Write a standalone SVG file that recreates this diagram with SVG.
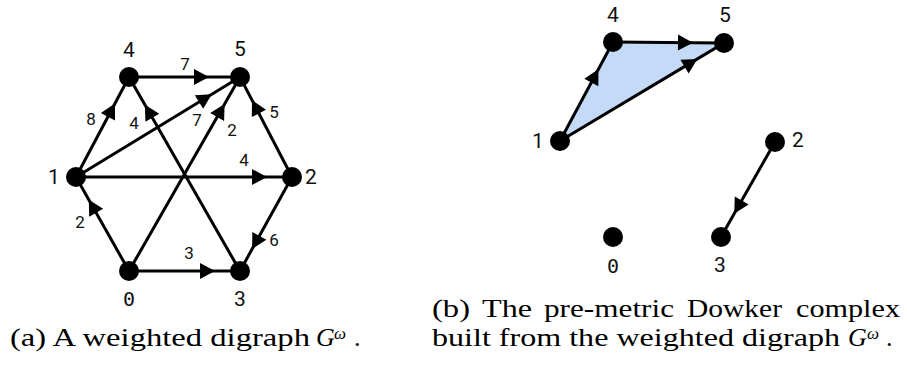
<svg xmlns="http://www.w3.org/2000/svg" width="907" height="367" viewBox="0 0 907 367">
<defs>
<marker id="arr" viewBox="-17 -9 18 18" markerWidth="18" markerHeight="18" refX="0" refY="0" orient="auto" markerUnits="userSpaceOnUse">
<path d="M0,0 L-15,-8 L-15,8 z" fill="#000"/>
</marker>
<style>
.e{fill:none;stroke:#000;stroke-width:3;marker-mid:url(#arr)}
.n{fill:#000}
.nl{font-family:Roboto,"DejaVu Sans",sans-serif;font-size:21px;text-anchor:middle;dominant-baseline:central;fill:#111}
.z{font-family:"DejaVu Sans Mono",monospace;font-size:20px}
.el{font-family:Roboto,"DejaVu Sans",sans-serif;font-size:17px;text-anchor:middle;dominant-baseline:central;fill:#111}
.cap{font-family:"Liberation Serif",serif;font-size:26px;fill:#000}
.it{font-style:italic}
.sup{font-family:"Liberation Serif",serif;font-size:17px;font-style:italic}
</style>
</defs>
<rect width="907" height="367" fill="#fff"/>

<g id="connectors">
<polyline class="e" points="129,77 209,77 240,77"/>
<polyline class="e" points="76,177 114.96,103.5 129,77"/>
<polyline class="e" points="240,271 144.9,104.8 129,77"/>
<polyline class="e" points="76,177 211.8,94.2 240,77"/>
<polyline class="e" points="129,271 224.6,103.9 240,77"/>
<polyline class="e" points="292,177 252,100.1 240,77"/>
<polyline class="e" points="76,177 267,177 292,177"/>
<polyline class="e" points="129,271 88.8,199.7 76,177"/>
<polyline class="e" points="292,177 252.1,249.1 240,271"/>
<polyline class="e" points="129,271 215,271 240,271"/>
<g id="b-connectors">
<polygon points="560,141 613,42 724,43" fill="#c4daf7" stroke="none"/>
<polyline class="e" points="560,141 598.4,69.3 613,42"/>
<polyline class="e" points="613,42 693,42.7 724,43"/>
<polyline class="e" points="560,141 697.4,58.9 724,43"/>
<polyline class="e" points="775,142 734.3,213.5 721,237"/>
</g>
</g>

<g id="edge-labels">
<text class="el" x="185" y="64">7</text>
<text class="el" x="91" y="119">8</text>
<text class="el" x="134" y="123">4</text>
<text class="el" x="197" y="120">7</text>
<text class="el" x="232" y="130">2</text>
<text class="el" x="274" y="112">5</text>
<text class="el" x="244" y="160">4</text>
<text class="el" x="80" y="222">2</text>
<text class="el" x="274" y="240">6</text>
<text class="el" x="189" y="253">3</text>
</g>

<g id="a-node-0"><circle class="n" cx="129" cy="271" r="10"/><text class="nl z" x="129" y="299">0</text></g>
<g id="a-node-1"><circle class="n" cx="76" cy="177" r="10"/><text class="nl" x="54" y="177">1</text></g>
<g id="a-node-2"><circle class="n" cx="292" cy="177" r="10"/><text class="nl" x="311" y="177">2</text></g>
<g id="a-node-3"><circle class="n" cx="240" cy="271" r="10"/><text class="nl" x="240" y="299">3</text></g>
<g id="a-node-4"><circle class="n" cx="129" cy="77" r="10"/><text class="nl" x="129" y="50">4</text></g>
<g id="a-node-5"><circle class="n" cx="240" cy="77" r="10"/><text class="nl" x="240" y="49">5</text></g>

<g id="b-node-0"><circle class="n" cx="613" cy="237" r="10"/><text class="nl z" x="613" y="266">0</text></g>
<g id="b-node-1"><circle class="n" cx="560" cy="141" r="10"/><text class="nl" x="538" y="141">1</text></g>
<g id="b-node-2"><circle class="n" cx="775" cy="142" r="10"/><text class="nl" x="798" y="140">2</text></g>
<g id="b-node-3"><circle class="n" cx="721" cy="237" r="10"/><text class="nl" x="720" y="265">3</text></g>
<g id="b-node-4"><circle class="n" cx="613" cy="42" r="10"/><text class="nl" x="613" y="15">4</text></g>
<g id="b-node-5"><circle class="n" cx="724" cy="43" r="10"/><text class="nl" x="725" y="15">5</text></g>

<g id="caption-a">
<text class="cap" x="10" y="346" textLength="300" lengthAdjust="spacingAndGlyphs">(a) A weighted digraph</text>
<text class="cap it" x="316" y="346">G</text>
<text class="sup" x="334" y="339">ω</text>
<text class="cap" x="354" y="346">.</text>
</g>
<g id="caption-b">
<text class="cap" y="317"><tspan x="432" textLength="38" lengthAdjust="spacingAndGlyphs">(b)</tspan><tspan x="482" textLength="50" lengthAdjust="spacingAndGlyphs">The</tspan><tspan x="544" textLength="130" lengthAdjust="spacingAndGlyphs">pre-metric</tspan><tspan x="687" textLength="95" lengthAdjust="spacingAndGlyphs">Dowker</tspan><tspan x="796" textLength="104" lengthAdjust="spacingAndGlyphs">complex</tspan></text>
<text class="cap" x="432" y="346" textLength="408" lengthAdjust="spacingAndGlyphs">built from the weighted digraph</text>
<text class="cap it" x="848" y="346">G</text>
<text class="sup" x="867" y="339">ω</text>
<text class="cap" x="886" y="346">.</text>
</g>
</svg>
